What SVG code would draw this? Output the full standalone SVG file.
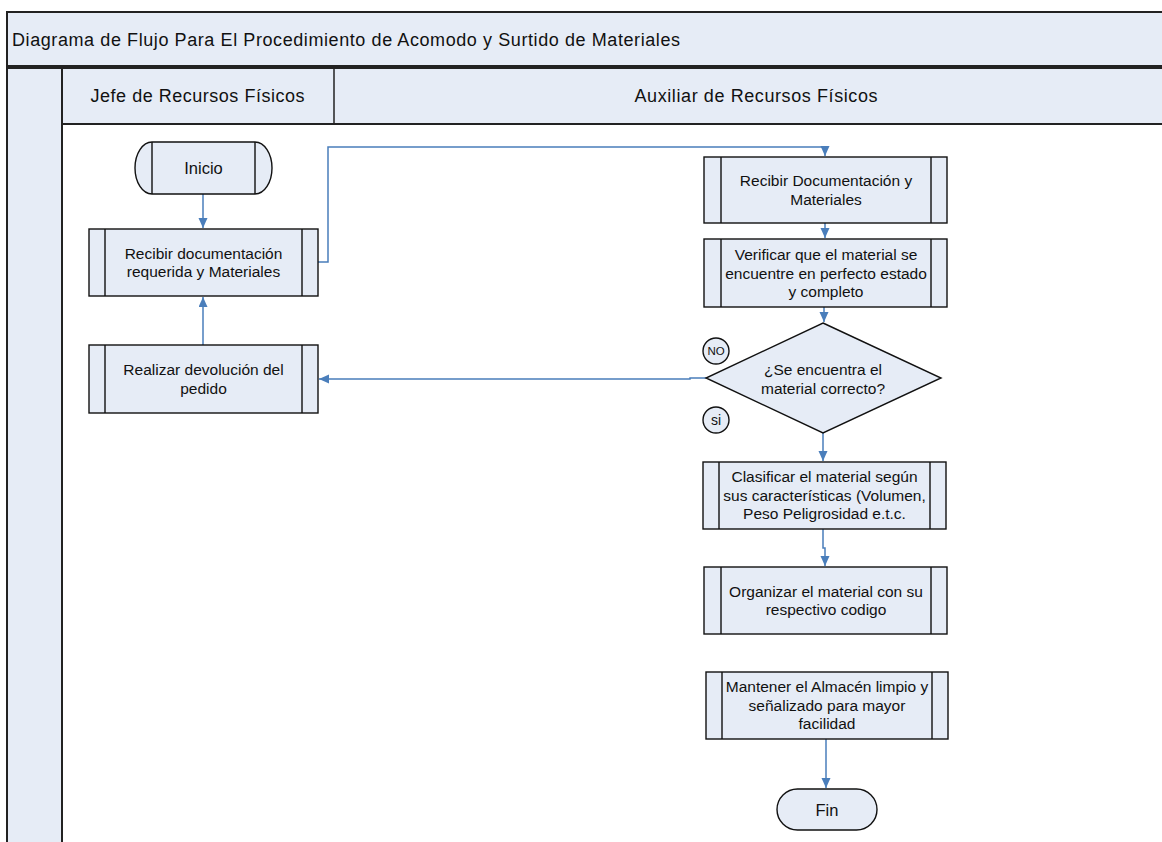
<svg xmlns="http://www.w3.org/2000/svg" width="1162" height="842" viewBox="0 0 1162 842">
<style>
.band{fill:#E6ECF6;stroke:#222;stroke-width:2}
.box{fill:#E6ECF6;stroke:#111;stroke-width:1.4}
.ln{stroke:#111;stroke-width:1.4;fill:none}
.t{font-family:"Liberation Sans",Arial,sans-serif;font-size:15.5px;fill:#111;text-anchor:middle}
.h{font-family:"Liberation Sans",Arial,sans-serif;font-size:18px;fill:#111}
.c{fill:none;stroke:#4A7EBB;stroke-width:1.5}
</style>
<defs>
<marker id="ah" markerUnits="userSpaceOnUse" markerWidth="12" markerHeight="10" refX="10" refY="4.5" orient="auto">
<path d="M0,0 L10,4.5 L0,9 z" fill="#4A7EBB"/>
</marker>
</defs>
<rect width="1162" height="842" fill="#fff"/>
<g id="frame">
<rect class="band" x="7" y="12" width="1180" height="54"/>
<text class="h" x="12" y="46" textLength="668">Diagrama de Flujo Para El Procedimiento de Acomodo y Surtido de Materiales</text>
<rect class="band" x="7" y="68" width="55" height="800"/>
<rect class="band" x="62" y="68" width="1125" height="56"/>
<line x1="334" y1="68" x2="334" y2="124" stroke="#222" stroke-width="1.5"/>
<text class="h" x="197.5" y="102" text-anchor="middle" textLength="214">Jefe de Recursos Físicos</text>
<text class="h" x="756" y="102" text-anchor="middle" textLength="243">Auxiliar de Recursos Físicos</text>
</g>
<g id="connectors">
<path class="c" d="M203,194 V228" marker-end="url(#ah)"/>
<path class="c" d="M203,345 V297" marker-end="url(#ah)"/>
<path class="c" d="M318,262 H328 V147 H825 V156" marker-end="url(#ah)"/>
<path class="c" d="M825,223 V238" marker-end="url(#ah)"/>
<path class="c" d="M824,307 V322" marker-end="url(#ah)"/>
<path class="c" d="M706,378 H690 V379 H319" marker-end="url(#ah)"/>
<path class="c" d="M823,433 V461" marker-end="url(#ah)"/>
<path class="c" d="M823,529 V548 H825 V566" marker-end="url(#ah)"/>
<path class="c" d="M826,739 V788" marker-end="url(#ah)"/>
</g>
<g id="inicio">
<path class="box" d="M152,142 H255 A17,26 0 0 1 255,194 H152 A17,26 0 0 1 152,142 Z"/>
<path class="ln" d="M152,142 V194 M255,142 V194"/>
<text class="t" x="203.5" y="174" style="font-size:16.5px">Inicio</text>
</g>
<g id="recibir-doc">
<rect class="box" x="89" y="229" width="229" height="67"/>
<path class="ln" d="M105,229 V296 M302,229 V296"/>
<text class="t" x="203.5" y="258.5">Recibir documentación</text>
<text class="t" x="203.5" y="277">requerida y Materiales</text>
</g>
<g id="realizar-devolucion">
<rect class="box" x="89" y="345" width="229" height="68"/>
<path class="ln" d="M105,345 V413 M302,345 V413"/>
<text class="t" x="203.5" y="375">Realizar devolución del</text>
<text class="t" x="203.5" y="393.5">pedido</text>
</g>
<g id="recibir-materiales">
<rect class="box" x="704" y="157" width="243" height="66"/>
<path class="ln" d="M721,157 V223 M931,157 V223"/>
<text class="t" x="826" y="186">Recibir Documentación y</text>
<text class="t" x="826" y="204.5">Materiales</text>
</g>
<g id="verificar">
<rect class="box" x="704" y="239" width="243" height="68"/>
<path class="ln" d="M721,239 V307 M931,239 V307"/>
<text class="t" x="826" y="260">Verificar que el material se</text>
<text class="t" x="826" y="278.5">encuentre en perfecto estado</text>
<text class="t" x="826" y="297">y completo</text>
</g>
<g id="decision">
<path class="box" d="M823,323 L941,378 L823,433 L706,378 Z"/>
<text class="t" x="823" y="375">¿Se encuentra el</text>
<text class="t" x="823" y="393.5">material correcto?</text>
</g>
<g id="label-no">
<circle class="box" cx="716" cy="351" r="13"/>
<text class="t" x="716" y="355" style="font-size:11.5px">NO</text>
</g>
<g id="label-si">
<circle class="box" cx="716" cy="420" r="13"/>
<text class="t" x="716" y="425" style="font-size:14px">si</text>
</g>
<g id="clasificar">
<rect class="box" x="703" y="462" width="243" height="67"/>
<path class="ln" d="M719,462 V529 M930,462 V529"/>
<text class="t" x="824.5" y="482">Clasificar el material según</text>
<text class="t" x="824.5" y="500.5">sus características (Volumen,</text>
<text class="t" x="824.5" y="519">Peso Peligrosidad e.t.c.</text>
</g>
<g id="organizar">
<rect class="box" x="704" y="567" width="243" height="67"/>
<path class="ln" d="M721,567 V634 M931,567 V634"/>
<text class="t" x="826" y="596.5">Organizar el material con su</text>
<text class="t" x="826" y="615">respectivo codigo</text>
</g>
<g id="mantener">
<rect class="box" x="706" y="672" width="242" height="67"/>
<path class="ln" d="M722,672 V739 M932,672 V739"/>
<text class="t" x="827" y="692">Mantener el Almacén limpio y</text>
<text class="t" x="827" y="710.5">señalizado para mayor</text>
<text class="t" x="827" y="729">facilidad</text>
</g>
<g id="fin">
<rect class="box" x="777" y="789" width="100" height="41" rx="20.5" ry="20.5"/>
<text class="t" x="827" y="815.5" style="font-size:16.5px">Fin</text>
</g>
</svg>
